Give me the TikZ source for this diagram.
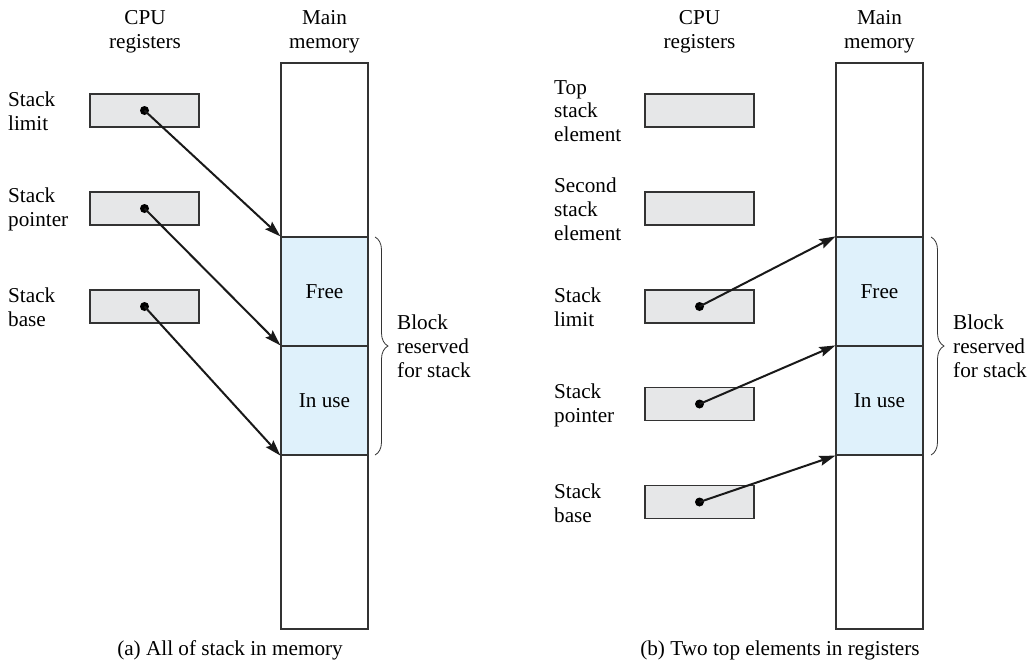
\documentclass[tikz,border=0pt]{standalone}
\usepackage{fontspec}
\setmainfont{Liberation Serif}
\usetikzlibrary{arrows.meta,decorations.pathreplacing}
\definecolor{regfill}{HTML}{E6E7E8}
\definecolor{memfill}{HTML}{DFF1FB}
\definecolor{linec}{HTML}{333333}
\begin{document}
\begin{tikzpicture}[x=1pt,y=-1pt,font=\fontsize{21.2}{23.8}\selectfont,
  reg/.style={draw=linec,line width=1.2pt,fill=regfill,minimum width=109pt,minimum height=33pt,inner sep=0pt},
  mem/.style={draw=linec,line width=1.2pt,minimum width=87pt,inner sep=0pt},
  stk/.style={mem,fill=memfill,minimum height=109pt},
  lbl/.style={align=left,anchor=west,inner sep=0pt},
  hdr/.style={align=center,inner sep=0pt},
  ptr/.style={draw=black!90,line width=2pt,-{Stealth[length=16pt,width=10pt,inset=2.5pt]}},
  brc/.style={draw=linec,line width=0.8pt,decorate,decoration={brace,amplitude=13pt}}]
\useasboundingbox (0,0) rectangle (1032,662);

% ---------------- (a) ----------------
\node[hdr] (hcpuA) at (145,32) {CPU\\registers};
\node[hdr] (hmemA) at (324.5,32) {Main\\memory};

\node[mem,minimum height=174pt] (mA0) at (324.5,150) {};
\node[stk] (mA1) at (324.5,291.5) {Free};
\node[stk] (mA2) at (324.5,400.5) {In use};
\node[mem,minimum height=174pt] (mA3) at (324.5,542) {};

\node[reg] (rA1) at (144.5,110.5) {};
\node[reg] (rA2) at (144.5,208.5) {};
\node[reg] (rA3) at (144.5,306.5) {};
\node[lbl] (lA1) at (8,111) {Stack\\limit};
\node[lbl] (lA2) at (8,209) {Stack\\pointer};
\node[lbl] (lA3) at (8,307) {Stack\\base};

\foreach \r in {rA1,rA2,rA3} \fill (\r.center) circle (4.5pt);
\draw[ptr] (rA1.center) -- (mA1.north west);
\draw[ptr] (rA2.center) -- (mA2.north west);
\draw[ptr] (rA3.center) -- (mA2.south west);

\coordinate (bA1) at (375,237);
\coordinate (bA2) at (375,455);
\draw[brc] (bA1) -- (bA2);
\node[lbl] (blkA) at (397,346) {Block\\reserved\\for stack};

\node[inner sep=0pt,anchor=base] (capA) at (230,655) {(a) All of stack in memory};

% ---------------- (b) ----------------
\node[hdr] (hcpuB) at (699.5,32) {CPU\\registers};
\node[hdr] (hmemB) at (879.5,32) {Main\\memory};

\node[mem,minimum height=174pt] (mB0) at (879.5,150) {};
\node[stk] (mB1) at (879.5,291.5) {Free};
\node[stk] (mB2) at (879.5,400.5) {In use};
\node[mem,minimum height=174pt] (mB3) at (879.5,542) {};

\node[reg] (rB1) at (699.5,110.5) {};
\node[reg] (rB2) at (699.5,208.5) {};
\node[reg] (rB3) at (699.5,306.5) {};
\node[reg] (rB4) at (699.5,404) {};
\node[reg] (rB5) at (699.5,502) {};
\node[lbl] (lB1) at (554,111) {Top\\stack\\element};
\node[lbl] (lB2) at (554,209) {Second\\stack\\element};
\node[lbl] (lB3) at (554,307) {Stack\\limit};
\node[lbl] (lB4) at (554,405) {Stack\\pointer};
\node[lbl] (lB5) at (554,503) {Stack\\base};

\foreach \r in {rB3,rB4,rB5} \fill (\r.center) circle (4.5pt);
\draw[ptr] (rB3.center) -- (mB1.north west);
\draw[ptr] (rB4.center) -- (mB2.north west);
\draw[ptr] (rB5.center) -- (mB2.south west);

\coordinate (bB1) at (931,237);
\coordinate (bB2) at (931,455);
\draw[brc] (bB1) -- (bB2);
\node[lbl] (blkB) at (953,346) {Block\\reserved\\for stack};

\node[inner sep=0pt,anchor=base] (capB) at (780,655) {(b) Two top elements in registers};
\end{tikzpicture}
\end{document}
